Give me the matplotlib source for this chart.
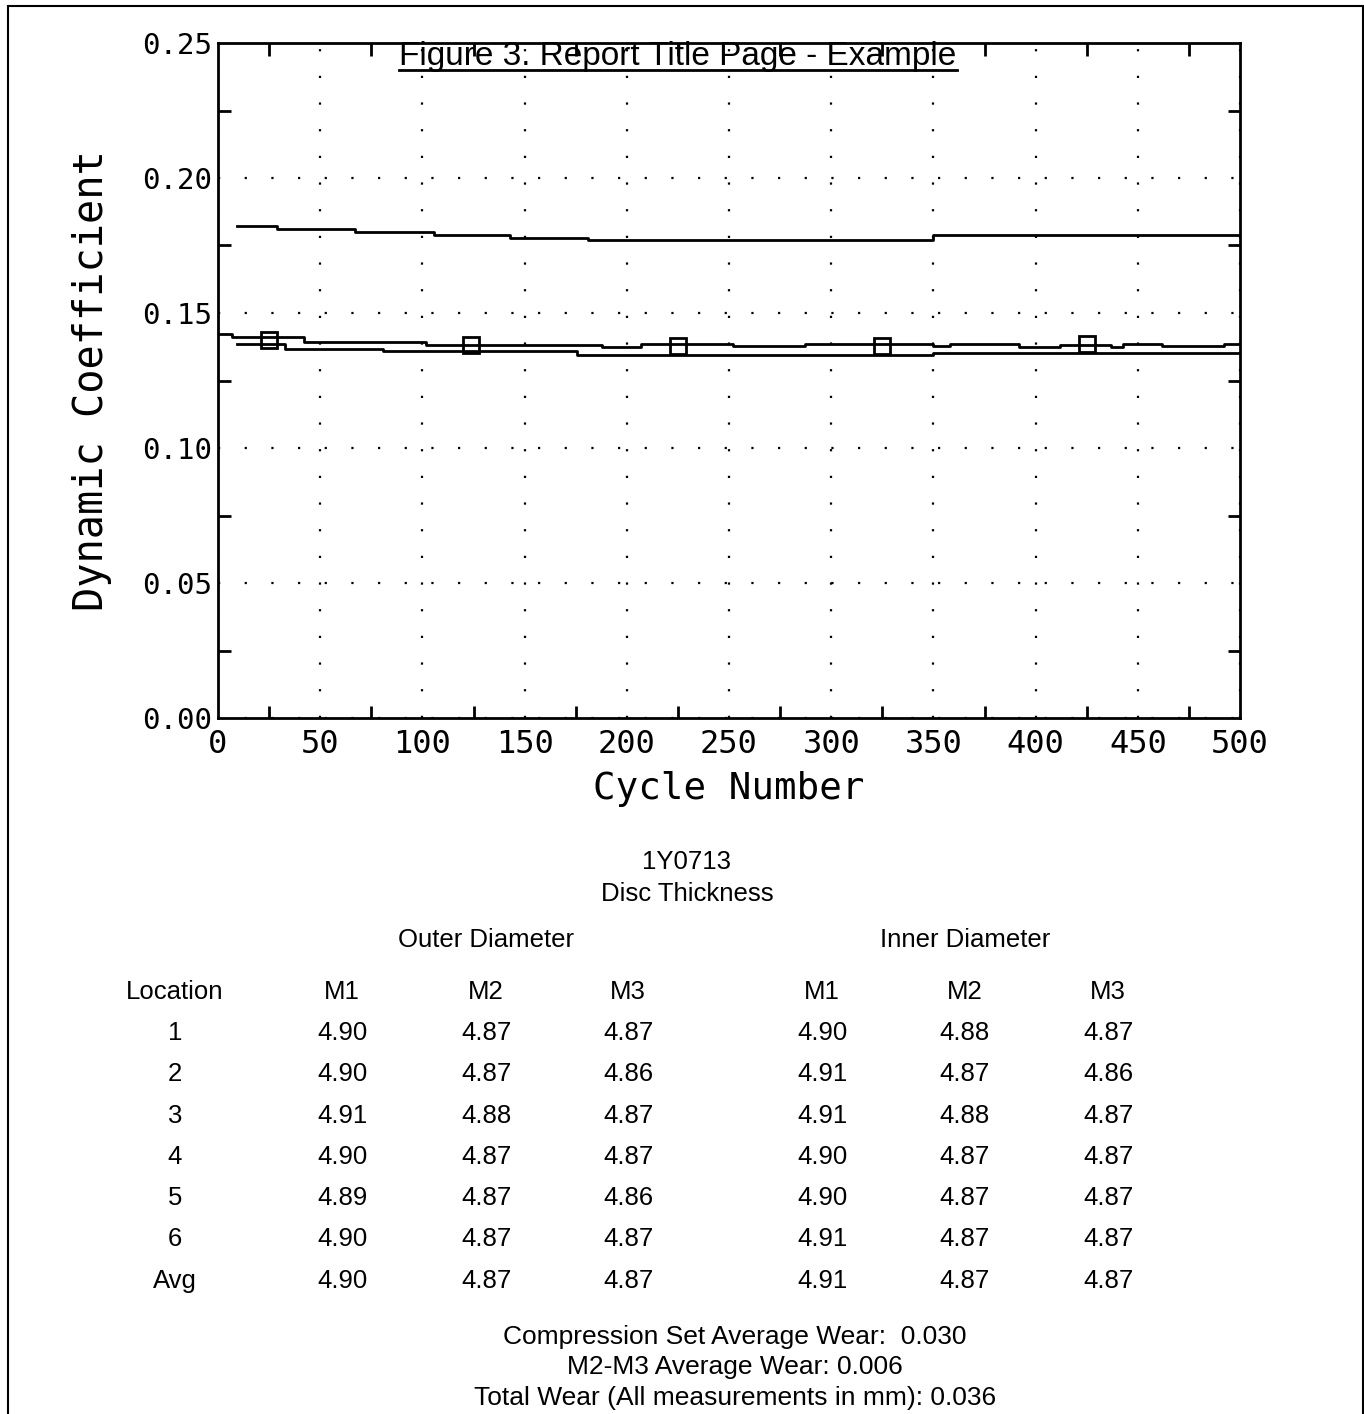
import matplotlib
matplotlib.use("Agg")
import matplotlib.pyplot as plt
from matplotlib.patches import Rectangle
from matplotlib.lines import Line2D
from matplotlib.ticker import MultipleLocator

# curvas de coeficiente dinamico (escalones)
a_cycles = [9.5, 29, 67, 105.5, 143, 181, 350, 500]
a_coef = [0.1821, 0.1811, 0.1799, 0.1790, 0.1779, 0.1771, 0.1788, 0.1788]

b_cycles = [0, 7, 42, 102, 188, 207, 252, 287, 350, 358, 392, 412, 437, 443, 462, 492, 500]
b_coef = [0.1421, 0.1411, 0.1393, 0.1380, 0.1373, 0.1384, 0.1377, 0.1384, 0.1378,
          0.1384, 0.1374, 0.1380, 0.1374, 0.1384, 0.1377, 0.1386, 0.1386]

c_cycles = [9.5, 33, 80.5, 175.5, 350, 500]
c_coef = [0.1384, 0.1368, 0.1359, 0.1343, 0.1352, 0.1352]

mark_cycles = [25, 124, 225, 325, 425]
mark_coef = [0.1399, 0.1380, 0.1379, 0.1377, 0.1385]

# tabla de espesores
locations = ["1", "2", "3", "4", "5", "6", "Avg"]
outer_m1 = ["4.90", "4.90", "4.91", "4.90", "4.89", "4.90", "4.90"]
outer_m2 = ["4.87", "4.87", "4.88", "4.87", "4.87", "4.87", "4.87"]
outer_m3 = ["4.87", "4.86", "4.87", "4.87", "4.86", "4.87", "4.87"]
inner_m1 = ["4.90", "4.91", "4.91", "4.90", "4.90", "4.91", "4.91"]
inner_m2 = ["4.88", "4.87", "4.88", "4.87", "4.87", "4.87", "4.87"]
inner_m3 = ["4.87", "4.86", "4.87", "4.87", "4.87", "4.87", "4.87"]

W, H = 1364, 1414
fig = plt.figure(figsize=(W / 100, H / 100), dpi=100)

def fx(px):
    return px / W

def fy(py):
    return 1 - py / H

ax = fig.add_axes([fx(218), fy(718), fx(1240) - fx(218), fy(43) - fy(718)])

ax.step(a_cycles, a_coef, where="post", color="black", lw=2)
ax.step(b_cycles, b_coef, where="post", color="black", lw=2)
ax.step(c_cycles, c_coef, where="post", color="black", lw=2)
ax.plot(mark_cycles, mark_coef, ls="none", marker="s", ms=11, mfc="none",
        mec="black", mew=2)

ax.set_xlim(0, 500)
ax.set_ylim(0, 0.25)
ax.xaxis.set_major_locator(MultipleLocator(50))
ax.yaxis.set_major_locator(MultipleLocator(0.05))
# ticks cortos a mitad de camino entre lineas de la rejilla
ax.set_xticks([25 + 50 * k for k in range(10)], minor=True)
ax.set_yticks([0.025 + 0.05 * k for k in range(5)], minor=True)
ax.tick_params(which="major", length=0, pad=8)
ax.tick_params(which="minor", direction="in", length=9, width=2,
               top=True, right=True)
ax.yaxis.set_major_formatter(plt.FuncFormatter(lambda v, p: f"{v:.2f}"))

mono = "DejaVu Sans Mono"
for lab in ax.get_xticklabels():
    lab.set_fontfamily(mono)
    lab.set_fontsize(23)
for lab in ax.get_yticklabels():
    lab.set_fontfamily(mono)
    lab.set_fontsize(21)
ax.tick_params(axis="y", pad=4)

ax.grid(True, which="major", color="black", lw=1.6, ls=(0, (1, 11)))
for s in ax.spines.values():
    s.set_linewidth(2)

ax.set_xlabel("Cycle Number", fontfamily=mono, fontsize=27, labelpad=8)
ax.set_ylabel("Dynamic Coefficient", fontfamily=mono, fontsize=29, labelpad=22)

# marco de la pagina
fig.patches.append(Rectangle((fx(8), -0.02), fx(1363) - fx(8), fy(6) + 0.02,
                             transform=fig.transFigure, fill=False,
                             ec="black", lw=1.5))

sans = "Liberation Sans"
title = fig.text(fx(678), fy(57), "Figure 3. Report Title Page - Example",
                 ha="center", va="center", fontfamily=sans, fontsize=24)
fig.canvas.draw()
bb = title.get_window_extent(fig.canvas.get_renderer())
fig.lines.append(Line2D([bb.x0 / W, bb.x1 / W], [fy(70), fy(70)],
                        transform=fig.transFigure, color="black", lw=2))

fs = 18.5
fig.text(fx(686), fy(862), "1Y0713", ha="center", va="center", fontfamily=sans, fontsize=fs)
fig.text(fx(687), fy(894), "Disc Thickness", ha="center", va="center", fontfamily=sans, fontsize=fs)
fig.text(fx(486), fy(940), "Outer Diameter", ha="center", va="center", fontfamily=sans, fontsize=fs)
fig.text(fx(965), fy(940), "Inner Diameter", ha="center", va="center", fontfamily=sans, fontsize=fs)

col_x = [175, 342, 486, 628, 822, 965, 1108]
headers = ["Location", "M1", "M2", "M3", "M1", "M2", "M3"]
columns = [locations, outer_m1, outer_m2, outer_m3, inner_m1, inner_m2, inner_m3]
for cx, head, col in zip(col_x, headers, columns):
    fig.text(fx(cx), fy(992), head, ha="center", va="center", fontfamily=sans, fontsize=fs)
    for i, val in enumerate(col):
        fig.text(fx(cx), fy(1033 + 41.3 * i), val, ha="center", va="center",
                 fontfamily=sans, fontsize=fs)

fs2 = 19
fig.text(fx(735), fy(1337), "Compression Set Average Wear:  0.030", ha="center",
         va="center", fontfamily=sans, fontsize=fs2)
fig.text(fx(735), fy(1367), "M2-M3 Average Wear: 0.006", ha="center",
         va="center", fontfamily=sans, fontsize=fs2)
fig.text(fx(735), fy(1398), "Total Wear (All measurements in mm): 0.036", ha="center",
         va="center", fontfamily=sans, fontsize=fs2)

fig.savefig("out.png", dpi=100)
